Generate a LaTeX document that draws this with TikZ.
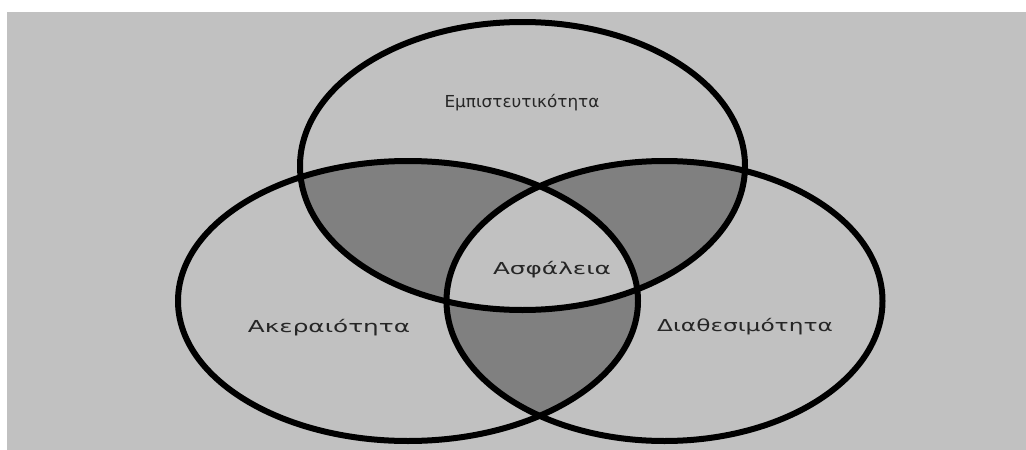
\documentclass[tikz,border=0pt]{standalone}
\usepackage{fontspec}
\setmainfont{DejaVu Sans}
\begin{document}
\begin{tikzpicture}[x=1pt,y=-1pt,
  ring/.style={draw=black,line width=6pt},
  lbl/.style={font=\fontsize{16.5}{19}\selectfont,text=black!85,inner sep=0pt,xscale=1.5},
  bg/.style={fill=gray!48.6}]
\useasboundingbox (0,0) rectangle (1026,450);
\fill[white] (0,0) rectangle (1026,450);
\fill[bg] (7,12) rectangle (1026,450);
\def\top{(522.5,166) ellipse [x radius=222.5,y radius=144]}
\def\lft{(408,301) ellipse [x radius=230,y radius=140]}
\def\rgt{(664.5,301) ellipse [x radius=218,y radius=140]}
% pairwise intersections
\begin{scope}\clip \top; \fill[gray] \lft; \fill[gray] \rgt; \end{scope}
\begin{scope}\clip \lft; \fill[gray] \rgt; \end{scope}
% triple intersection
\begin{scope}\clip \top; \clip \lft; \fill[bg] \rgt; \end{scope}
\draw[ring] \top;
\draw[ring] \lft;
\draw[ring] \rgt;
\node[lbl,xscale=0.68] (conf) at (522,103) {Εμπιστευτικότητα};
\node[lbl] (sec) at (552,270) {Ασφάλεια};
\node[lbl] (integ) at (329,328) {Ακεραιότητα};
\node[lbl,xscale=0.94] (avail) at (745,327) {Διαθεσιμότητα};
\end{tikzpicture}
\end{document}
